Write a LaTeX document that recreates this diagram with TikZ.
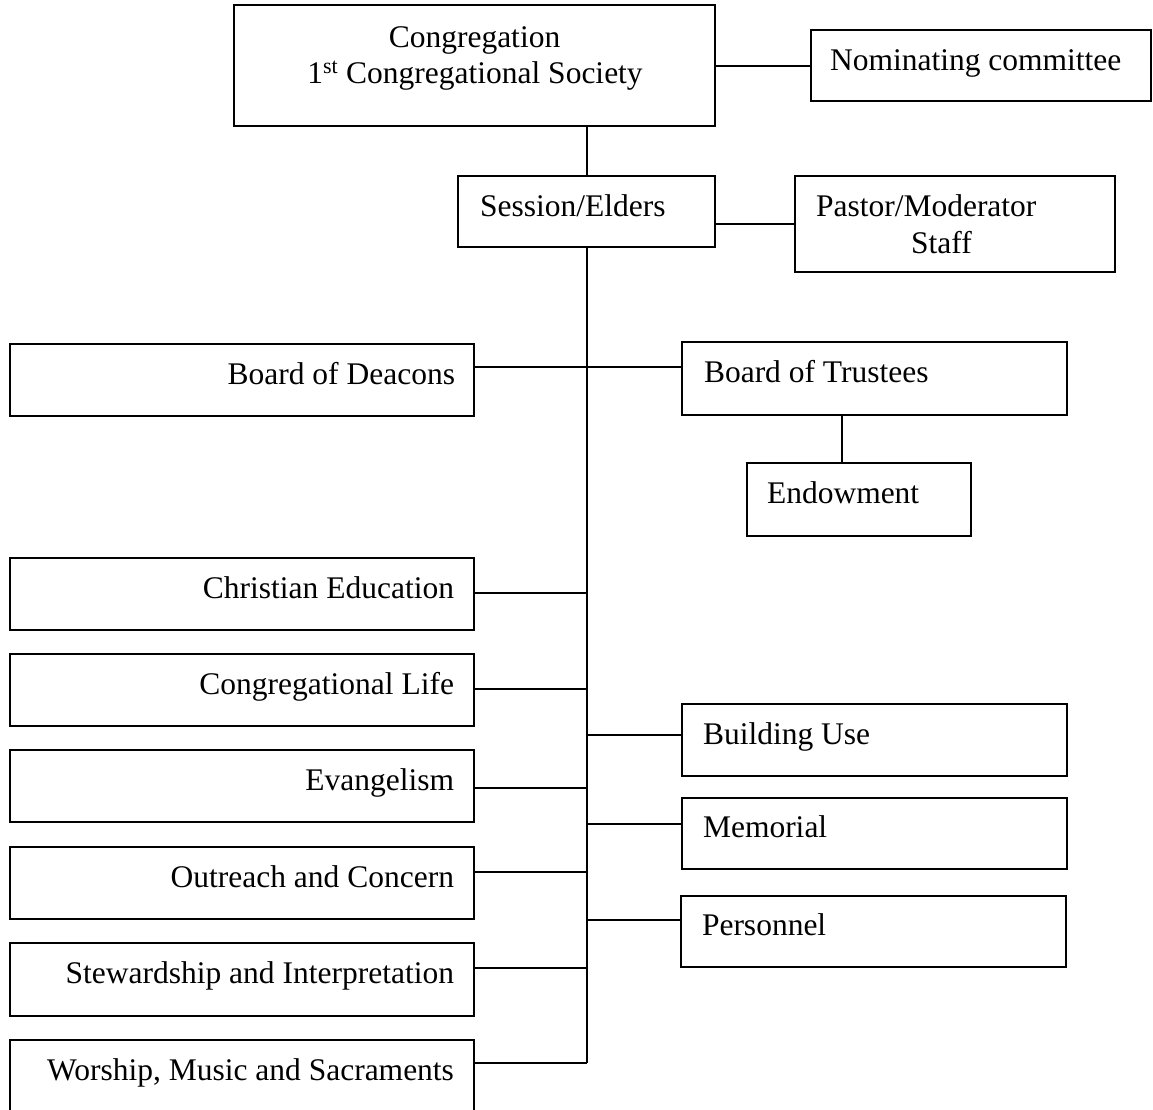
\documentclass[tikz,border=0pt]{standalone}
\usepackage{fontspec}
\setmainfont{Liberation Serif}
\begin{document}
\begin{tikzpicture}[x=1pt,y=-1pt,
  box/.style={draw=black, line width=1.8pt, fill=white, inner sep=0pt, outer sep=0pt, anchor=north west},
  lbl/.style={inner sep=0pt, outer sep=0pt, font=\fontsize{31.5}{36}\selectfont},
  conn/.style={draw=black, line width=1.8pt}]
\useasboundingbox (0,0) rectangle (1153,1109);
\clip (0,0) rectangle (1153,1109);
\fill[white] (0,0) rectangle (1153,1109);

% boxes
\node[box, minimum width=481pt, minimum height=121pt] (cong) at (234,5) {};
\node[box, minimum width=340pt, minimum height=71pt] (nom) at (811,30) {};
\node[box, minimum width=257pt, minimum height=71pt] (sess) at (458,176) {};
\node[box, minimum width=320pt, minimum height=96pt] (past) at (795,176) {};
\node[box, minimum width=464pt, minimum height=72pt] (deac) at (10,344) {};
\node[box, minimum width=385pt, minimum height=73pt] (trus) at (682,342) {};
\node[box, minimum width=224pt, minimum height=73pt] (endo) at (747,463) {};
\node[box, minimum width=464pt, minimum height=72pt] (chri) at (10,558) {};
\node[box, minimum width=464pt, minimum height=72pt] (cliv) at (10,654) {};
\node[box, minimum width=464pt, minimum height=72pt] (evan) at (10,750) {};
\node[box, minimum width=464pt, minimum height=72pt] (outr) at (10,847) {};
\node[box, minimum width=464pt, minimum height=73pt] (stew) at (10,943) {};
\node[box, minimum width=464pt, minimum height=80pt] (wors) at (10,1040) {};
\node[box, minimum width=385pt, minimum height=72pt] (bldg) at (682,704) {};
\node[box, minimum width=385pt, minimum height=71pt] (memo) at (682,798) {};
\node[box, minimum width=385pt, minimum height=71pt] (pers) at (681,896) {};

% texts
\node[lbl, anchor=base] (congA) at (474.5,47) {Congregation};
\node[lbl, anchor=base] (congB) at (475,83) {1\textsuperscript{st} Congregational Society};
\node[lbl, anchor=base west] (nomT) at (830,70) {Nominating committee};
\node[lbl, anchor=base west] (sessT) at (480,216) {Session/Elders};
\node[lbl, anchor=base west] (pastA) at (816,216) {Pastor/Moderator};
\node[lbl, anchor=base] (pastB) at (941.5,253) {Staff};
\node[lbl, anchor=base east] (deacT) at (455,384) {Board of Deacons};
\node[lbl, anchor=base west] (trusT) at (704,382) {Board of Trustees};
\node[lbl, anchor=base west] (endoT) at (767,503) {Endowment};
\node[lbl, anchor=base east] (chriT) at (454,598) {Christian Education};
\node[lbl, anchor=base east] (clivT) at (454,694) {Congregational Life};
\node[lbl, anchor=base east] (evanT) at (454,790) {Evangelism};
\node[lbl, anchor=base east] (outrT) at (454,887) {Outreach and Concern};
\node[lbl, anchor=base east] (stewT) at (454,983) {Stewardship and Interpretation};
\node[lbl, anchor=base east] (worsT) at (454,1080) {Worship, Music and Sacraments};
\node[lbl, anchor=base west] (bldgT) at (703,744) {Building Use};
\node[lbl, anchor=base west] (memoT) at (703,837) {Memorial};
\node[lbl, anchor=base west] (persT) at (702,935) {Personnel};

% spine and junctions
\coordinate (sp) at (587,0);
\coordinate (ex) at (842,0);
\coordinate (jnom) at (0,66);
\coordinate (jpast) at (0,224);
\coordinate (jdeac) at (587,367);
\coordinate (jchri) at (587,593);
\coordinate (jcliv) at (587,689);
\coordinate (jevan) at (587,788);
\coordinate (joutr) at (587,872);
\coordinate (jstew) at (587,968);
\coordinate (jwors) at (587,1063);
\coordinate (jbldg) at (587,735);
\coordinate (jmemo) at (587,824);
\coordinate (jpers) at (587,920);

% connectors
\draw[conn] (cong.east |- jnom) -- (nom.west |- jnom);
\draw[conn] (cong.south -| sp) -- (sess.north -| sp);
\draw[conn] (sess.east |- jpast) -- (past.west |- jpast);
\draw[conn] (sess.south -| sp) -- (jwors);
\draw[conn] (jdeac -| deac.east) -- (jdeac) -- (jdeac -| trus.west);
\draw[conn] (trus.south -| ex) -- (endo.north -| ex);
\draw[conn] (jchri -| chri.east) -- (jchri);
\draw[conn] (jcliv -| cliv.east) -- (jcliv);
\draw[conn] (jevan -| evan.east) -- (jevan);
\draw[conn] (joutr -| outr.east) -- (joutr);
\draw[conn] (jstew -| stew.east) -- (jstew);
\draw[conn] (jwors -| wors.east) -- (jwors);
\draw[conn] (jbldg) -- (jbldg -| bldg.west);
\draw[conn] (jmemo) -- (jmemo -| memo.west);
\draw[conn] (jpers) -- (jpers -| pers.west);
\end{tikzpicture}
\end{document}
